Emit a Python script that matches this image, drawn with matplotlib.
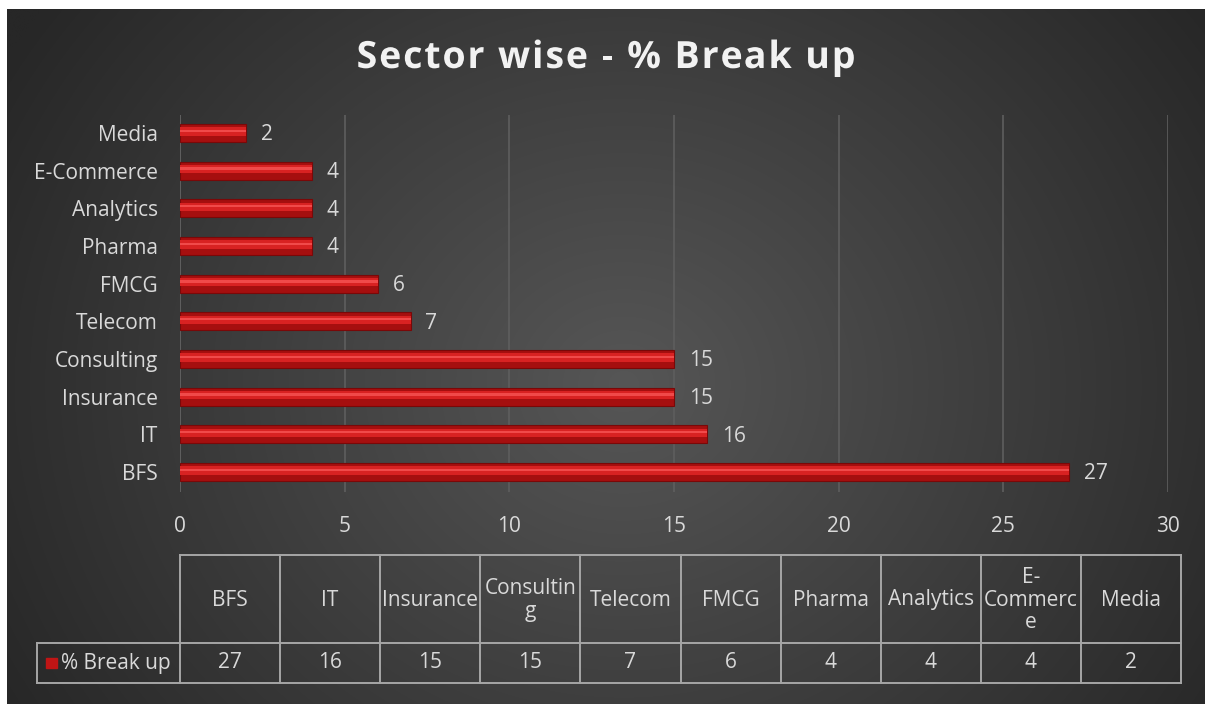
import numpy as np
import matplotlib
matplotlib.use("Agg")
import matplotlib.pyplot as plt
import matplotlib.patheffects as pe
from matplotlib.patches import Rectangle

sectors = ["BFS", "IT", "Insurance", "Consulting", "Telecom", "FMCG",
           "Pharma", "Analytics", "E-Commerce", "Media"]
values = [27, 16, 15, 15, 7, 6, 4, 4, 4, 2]
# header text as wrapped in the data table cells
table_headers = ["BFS", "IT", "Insurance", "Consultin\ng", "Telecom", "FMCG",
                 "Pharma", "Analytics", "E-\nCommerc\ne", "Media"]
series_name = "% Break up"
title = "Sector wise - % Break up"
x_ticks = [0, 5, 10, 15, 20, 25, 30]

plt.rcParams['font.family'] = ['Open Sans', 'DejaVu Sans']
W, H = 1205, 704
txt = '#d9d9d9'

fig = plt.figure(figsize=(W / 100, H / 100), dpi=100, facecolor='white')

# background with soft radial gradient
bg = fig.add_axes([7 / W, 0, 1 - 7 / W, 1 - 9 / H])
bg.set_axis_off()
yy, xx = np.mgrid[0:H, 0:W]
d = np.sqrt(((xx - 620) / 1.0) ** 2 + ((yy - 380) / 0.9) ** 2)
t = np.clip(d / 720, 0, 1)
lo, hi = 0x56 / 255, 0x27 / 255
g = lo + (hi - lo) * t
bg.imshow(np.dstack([g, g, g]), aspect='auto', extent=[0, 1, 0, 1])

# main bar axes
ax = fig.add_axes([180 / W, (H - 492) / H, (1168 - 180) / W, (492 - 115) / H])
ax.set_facecolor('none')
y = np.arange(len(sectors))
ax.barh(y, values, height=0.48, color='#a50f0f', edgecolor='#7a0808', lw=0.8, zorder=3)
ax.barh(y + 0.04, values, height=0.22, color='#d82222', lw=0, zorder=4)
ax.barh(y + 0.06, values, height=0.06, color='#f04a4a', lw=0, zorder=5)
for yi, v in zip(y, values):
    ax.text(v + 0.45, yi - 0.05, str(v), color=txt, fontsize=15, va='center', ha='left')
ax.set_xlim(0, 30)
ax.set_ylim(-0.53, 9.48)
ax.set_xticks(x_ticks)
ax.set_xticklabels([str(v) for v in x_ticks])
ax.set_yticks(y)
ax.set_yticklabels(sectors)
ax.tick_params(colors=txt, labelsize=15, length=0)
ax.tick_params(axis='x', pad=17)
ax.tick_params(axis='y', pad=16)
ax.grid(axis='x', color='#5e5e5e', lw=1.2, zorder=0)
for s in ax.spines.values():
    s.set_visible(False)
ax.axvline(0, color='#6a6a6a', lw=1.2, zorder=1)

# overlay in pixel coordinates for title and data table
ov = fig.add_axes([0, 0, 1, 1])
ov.set_xlim(0, W)
ov.set_ylim(H, 0)
ov.set_axis_off()
ov.patch.set_alpha(0)

# title with extra letter spacing
renderer = fig.canvas.get_renderer()
tkw = dict(color='#f2f2f2', fontsize=27, fontweight='bold', va='center', ha='left')
spacing = 1.9


def text_w(s):
    tt = ov.text(0, 0, s, **tkw)
    w = tt.get_window_extent(renderer).width if s else 0.0
    tt.remove()
    return w


full = text_w(title) + spacing * (len(title) - 1)
start = 606 - full / 2
for i, ch in enumerate(title):
    if ch == ' ':
        continue
    xpos = start + text_w(title[:i].replace(' ', '\u00a0')) + spacing * i
    ov.text(xpos, 58, ch, path_effects=[pe.SimpleLineShadow(offset=(1.2, -1.2), alpha=0.5), pe.Normal()], **tkw)

x0, cw = 180, 100.1
top, mid, bot = 555, 643, 683
lc, lw = '#a6a6a6', 1.4
n = len(sectors)
ov.plot([x0, x0 + n * cw], [top, top], color=lc, lw=lw)
ov.plot([37, x0 + n * cw], [mid, mid], color=lc, lw=lw)
ov.plot([37, x0 + n * cw], [bot, bot], color=lc, lw=lw)
ov.plot([37, 37], [mid, bot], color=lc, lw=lw)
for i in range(n + 1):
    ov.plot([x0 + i * cw, x0 + i * cw], [top, bot], color=lc, lw=lw)
for i in range(n):
    cx = x0 + (i + 0.5) * cw
    ov.text(cx, (top + mid) / 2 + 1, table_headers[i], color=txt, fontsize=15,
            ha='center', va='center', linespacing=1.1)
    ov.text(cx, (mid + bot) / 2, str(values[i]), color=txt, fontsize=15,
            ha='center', va='center')
ov.add_patch(Rectangle((46, 658), 11, 10, color='#c01515'))
ov.text(61, (mid + bot) / 2, series_name, color=txt, fontsize=15,
        ha='left', va='center')

fig.savefig("out.png", dpi=100, facecolor=fig.get_facecolor())
